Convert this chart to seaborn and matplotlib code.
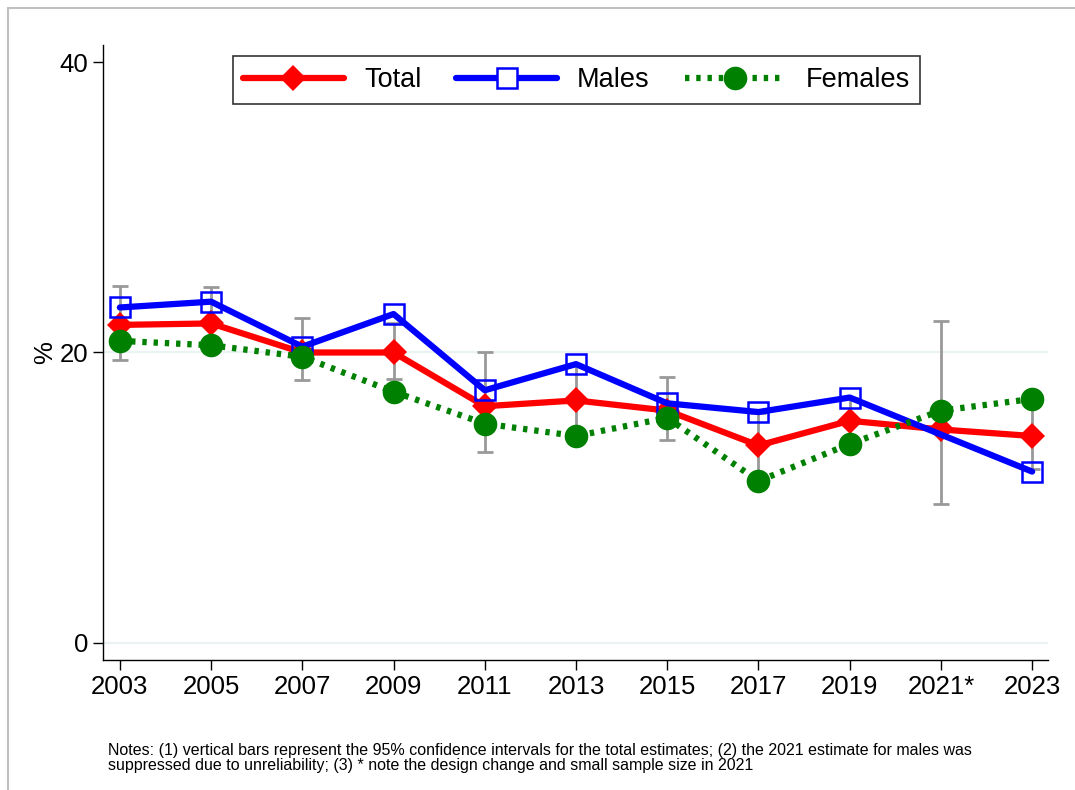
import numpy as np
import pandas as pd
import matplotlib
matplotlib.use('Agg')
import matplotlib.pyplot as plt
import seaborn as sns
from matplotlib.lines import Line2D

# datos
years = [2003, 2005, 2007, 2009, 2011, 2013, 2015, 2017, 2019, 2021, 2023]
year_labels = ['2003', '2005', '2007', '2009', '2011', '2013', '2015', '2017', '2019', '2021*', '2023']
total = [21.9, 22.0, 20.0, 20.0, 16.3, 16.7, 16.0, 13.6, 15.3, 14.7, 14.25]
males = [23.1, 23.5, 20.4, 22.65, 17.4, 19.2, 16.5, 15.9, 16.9, np.nan, 11.8]
females = [20.8, 20.5, 19.7, 17.3, 15.1, 14.25, 15.5, 11.15, 13.7, 16.0, 16.8]
ci_low = [19.5, 20.0, 18.1, 18.2, 13.15, 14.4, 14.0, 11.6, 13.8, 9.6, 12.0]
ci_high = [24.6, 24.5, 22.4, 22.0, 20.0, 19.1, 18.3, 15.8, 16.9, 22.2, 16.6]

df = pd.DataFrame({'year': years, 'Total': total, 'Males': males, 'Females': females,
                   'lo': ci_low, 'hi': ci_high})

sns.set_style('white')
plt.rcParams['font.family'] = ['Liberation Sans', 'DejaVu Sans']
plt.rcParams['text.color'] = 'black'
plt.rcParams['xtick.color'] = 'black'
plt.rcParams['ytick.color'] = 'black'
plt.rcParams['axes.labelcolor'] = 'black'

fig = plt.figure(figsize=(10.75, 7.9), dpi=100)
ax = fig.add_axes([0.0958, 0.1646, 0.8792, 0.7784])

# lineas de grilla
for g in [0, 20]:
    ax.axhline(g, color='#eaf2f3', lw=1.6, zorder=0)

# intervalos de confianza
ax.errorbar(df['year'], df['Total'],
            yerr=[df['Total'] - df['lo'], df['hi'] - df['Total']],
            fmt='none', ecolor='#999999', elinewidth=2, capsize=6, capthick=2, zorder=1)

sns.lineplot(data=df, x='year', y='Total', ax=ax, color='red', lw=4.5,
             marker='D', markersize=13, markeredgewidth=0, zorder=2)
sns.lineplot(data=df, x='year', y='Males', ax=ax, color='blue', lw=4.5,
             marker='s', markersize=14, markerfacecolor='none',
             markeredgecolor='blue', markeredgewidth=1.8, zorder=3)
sns.lineplot(data=df, x='year', y='Females', ax=ax, color='green', lw=4.5,
             linestyle=(0, (0.7, 1.1)), marker='o', markersize=17,
             markeredgewidth=0, zorder=4)

ax.set_xlim(2002.63, 2023.35)
ax.set_ylim(-1.17, 41.17)
ax.set_xticks(years)
ax.set_xticklabels(year_labels)
ax.set_yticks([0, 20, 40])
ax.tick_params(axis='both', labelsize=18.5, length=7, width=1, direction='out',
               color='black', labelcolor='black', left=True, bottom=True)
ax.set_xlabel('')
ax.set_ylabel('%', fontsize=18.5, labelpad=2)
for s in ['top', 'right']:
    ax.spines[s].set_visible(False)
for s in ['left', 'bottom']:
    ax.spines[s].set_color('black')
    ax.spines[s].set_linewidth(1)

handles = [
    Line2D([], [], color='red', lw=4.5, marker='D', markersize=13, markeredgewidth=0),
    Line2D([], [], color='blue', lw=4.5, marker='s', markersize=14, markerfacecolor='white',
           markeredgecolor='blue', markeredgewidth=1.8),
    Line2D([], [], color='green', lw=4.5, linestyle=(0, (0.7, 1.1)), marker='o',
           markersize=17, markeredgewidth=0),
]
leg = ax.legend(handles, ['Total', 'Males', 'Females'], loc='upper center',
                bbox_to_anchor=(0.501, 0.995), ncol=3, fontsize=19.5, frameon=True,
                fancybox=False, edgecolor='black', handlelength=3.7,
                columnspacing=1.3, handletextpad=0.75, borderpad=0.4,
                borderaxespad=0.3)
leg.get_frame().set_linewidth(1.2)

fig.text(108 / 1075, 1 - 758 / 790,
         'Notes: (1) vertical bars represent the 95% confidence intervals for the total estimates; (2) the 2021 estimate for males was\n'
         'suppressed due to unreliability; (3) * note the design change and small sample size in 2021',
         fontsize=11.5, va='center', ha='left', linespacing=0.95)

# marco gris de la figura
fig.add_artist(Line2D([8 / 1075, 8 / 1075], [0, 1 - 8 / 790], color='#c0c0c0', lw=1.5,
                      transform=fig.transFigure))
fig.add_artist(Line2D([8 / 1075, 1], [1 - 8 / 790, 1 - 8 / 790], color='#c0c0c0', lw=1.5,
                      transform=fig.transFigure))

fig.savefig('out.png', dpi=100)
